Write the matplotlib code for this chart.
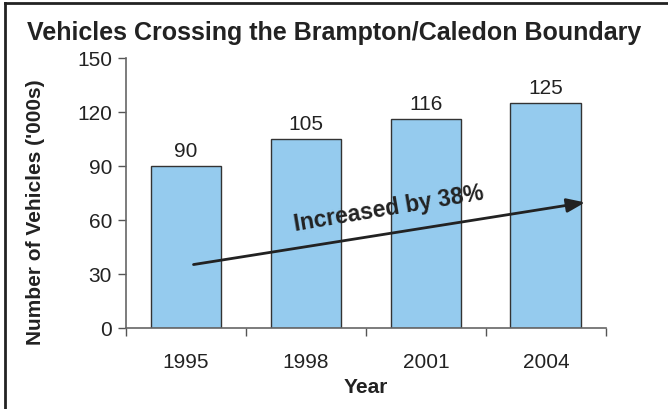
import matplotlib
matplotlib.use("Agg")
import matplotlib.pyplot as plt
from matplotlib.lines import Line2D

plt.rcParams['font.family'] = ['Liberation Sans', 'DejaVu Sans']

years = ["1995", "1998", "2001", "2004"]
vehicles = [90, 105, 116, 125]
yticks = [0, 30, 60, 90, 120, 150]
title = "Vehicles Crossing the Brampton/Caledon Boundary"
annotation = "Increased by 38%"

fig = plt.figure(figsize=(6.68, 4.10), dpi=100)
ax = fig.add_axes([0.1886, 0.1976, 0.7184, 0.6585])

x = list(range(len(years)))
ax.bar(x, vehicles, width=0.59, color='#95CBEE', edgecolor='#333333', linewidth=1.0, zorder=2)
for xi, v in zip(x, vehicles):
    ax.text(xi, v + 3.5, str(v), ha='center', va='bottom', fontsize=15, color='#222222')

ax.set_xlim(-0.5, len(years) - 0.5)
ax.set_ylim(0, 150)
ax.set_yticks(yticks)
ax.set_yticklabels([str(t) for t in yticks], fontsize=15, color='#222222')
ax.set_xticks(x)
ax.set_xticklabels(years, fontsize=15, color='#222222')
ax.tick_params(axis='x', length=0, pad=17)
ax.set_xticks([i - 0.5 for i in range(len(years) + 1)], minor=True)
ax.tick_params(axis='x', which='minor', length=6, width=1, color='#555555', direction='out')
ax.tick_params(axis='y', length=6, width=1, color='#555555', direction='out', pad=4)

for s in ['top', 'right']:
    ax.spines[s].set_visible(False)
for s in ['left', 'bottom']:
    ax.spines[s].set_color('#666666')
    ax.spines[s].set_linewidth(1.2)

fig.text(366 / 668, 1 - 388 / 410, "Year", ha='center', va='center', fontsize=15,
         fontweight='bold', color='#222222')
fig.text(36 / 668, 1 - 212 / 410, "Number of Vehicles ('000s)", rotation=90, ha='center',
         va='center', fontsize=15, fontweight='bold', color='#222222')

ax.annotate("", xy=(3.35, 70), xytext=(0.04, 35),
            arrowprops=dict(arrowstyle='-|>,head_length=1.1,head_width=0.42', color='#222222', lw=2), zorder=3)
ax.text(1.69, 66.7, annotation, rotation=9.5, ha='center', va='center', fontsize=16.5,
        fontweight='bold', color='#222222', zorder=4)

fig.text(0.5, 1 - 33 / 410, title, ha='center', va='center', fontsize=18, fontweight='bold', color='#222222')

fig.add_artist(Line2D([0.0075, 0.0075], [0, 0.99], transform=fig.transFigure, color='#222222', lw=2))
fig.add_artist(Line2D([0.0075, 1.0], [0.99, 0.99], transform=fig.transFigure, color='#222222', lw=2))

fig.savefig("out.png", dpi=100)
